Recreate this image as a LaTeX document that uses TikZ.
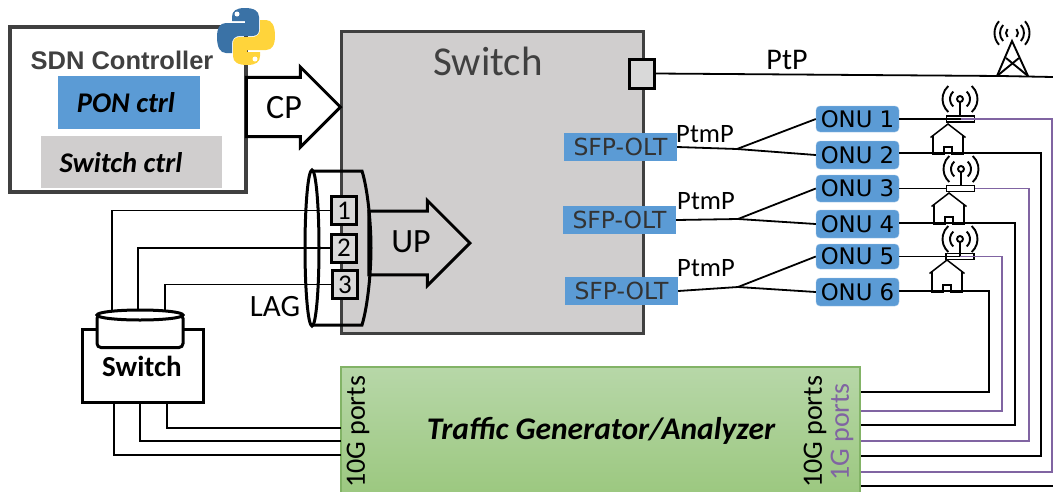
\documentclass[tikz,border=0pt]{standalone}
\usepackage{fontspec}
\usepackage{tikz}
\usetikzlibrary{positioning,calc,shapes.arrows,shapes.geometric}
\setmainfont{Carlito}
\newfontfamily\dejafont{DejaVu Sans}
\newfontfamily\arialfont{Liberation Sans}
\definecolor{ponblue}{HTML}{5B9BD5}
\definecolor{swgray}{HTML}{D0CECE}
\definecolor{portgray}{HTML}{D9D9D9}
\definecolor{edgegray}{HTML}{404040}
\definecolor{genpurple}{HTML}{8064A2}
\definecolor{gentop}{HTML}{B7D7A8}
\definecolor{genbot}{HTML}{9CC880}
\definecolor{genedge}{HTML}{82B366}
\definecolor{pyblue}{HTML}{3A72A6}
\definecolor{pyyellow}{HTML}{FFD43B}
\newcommand{\pyhalf}{(232,17) .. controls (232,11) and (236,8) .. (245,8)
  .. controls (254,8) and (259,11) .. (259,17) -- (259,30)
  .. controls (259,34) and (256,36) .. (252,36) -- (240,36)
  .. controls (235,36) and (232,39) .. (232,44) -- (232,53) -- (226,53)
  .. controls (220,53) and (217,47) .. (217,37)
  .. controls (217,28) and (220,23) .. (226,23) -- (245,23) -- (245,21) -- (232,21) -- cycle}
\tikzset{
  pics/antenna/.style={code={
    \draw[line width=1.9pt] (0,0) circle (3);
    \draw[line width=1.9pt] (0,3) -- (0,17);
    \foreach \r in {10,17.5}{
      \draw[line width=1.9pt] (48:\r) arc[start angle=48,end angle=-48,radius=\r];
      \draw[line width=1.9pt] (132:\r) arc[start angle=132,end angle=228,radius=\r];
    }
  }},
  pics/house/.style={code={
    \draw[line width=1.5pt] (-17.5,13.5) -- (0,0) -- (17.5,13.5);
    \draw[line width=1.5pt] (-15,12) -- (-15,#1) -- (-4,#1) -- (-4,{#1-7}) -- (4,{#1-7}) -- (4,#1) -- (15,#1) -- (15,12);
  }},
  pics/house/.default=30
}
\begin{document}
\begin{tikzpicture}[x=1pt,y=-1pt,
  wire/.style={line width=1.8pt,black},
  purplewire/.style={line width=1.9pt,genpurple},
  ctrlbox/.style={draw=edgegray,line width=3.2pt,fill=white,minimum width=236pt,minimum height=165pt,inner sep=0},
  mainswitch/.style={draw=edgegray,line width=3pt,fill=swgray,minimum width=302pt,minimum height=302pt,inner sep=0},
  ctrlblock/.style={inner sep=0,font=\fontsize{28.5}{28.5}\selectfont\bfseries\itshape},
  portbox/.style={draw=black,line width=3pt,fill=portgray,minimum width=25pt,minimum height=28pt,inner sep=0,font=\fontsize{27}{27}\selectfont},
  olt/.style={fill=ponblue,minimum width=113pt,minimum height=28pt,inner sep=0,text=black!80,font=\dejafont\fontsize{23.5}{24}\selectfont},
  onu/.style={fill=ponblue,draw=ponblue!60,rounded corners=4pt,minimum width=83pt,inner sep=0,font=\dejafont\fontsize{22.8}{23}\selectfont},
  router/.style={draw=black,line width=1.9pt,minimum width=28pt,minimum height=6pt,inner sep=0},
  txt/.style={inner sep=0,font=\fontsize{#1}{#1}\selectfont},
  txt/.default=26,
  bigarrow/.style={single arrow,draw=black,line width=3pt,inner sep=0,single arrow head indent=0pt}]
  \useasboundingbox (0,0) rectangle (1053,491);
  % switch under test
  \node[mainswitch] (sw) at (492,182) {};
  \node[txt=41,text=edgegray] (swname) at (488,61) {Switch};
  % controller
  \node[ctrlbox] (ctrl) at (128,109.5) {};
  \node[inner sep=0,text=edgegray,font=\arialfont\bfseries\fontsize{25.5}{25.5}\selectfont] (ctrlname) at (122,60) {SDN Controller};
  \node[ctrlblock,fill=ponblue,minimum width=142pt,minimum height=53pt] (ponctrl) at (129,102.5) {};
  \node[ctrlblock] (ponctrltxt) at (126,103) {PON ctrl};
  \node[ctrlblock,fill=swgray,minimum width=181pt,minimum height=52pt] (swctrl) at (131.5,162) {};
  \node[ctrlblock] (swctrltxt) at (121,163) {Switch ctrl};
  % python logo
  \fill[pyblue] \pyhalf;
  \fill[white] (237,14) circle (2.5);
  \begin{scope}[rotate around={180:(246,36.5)}]
    \fill[pyyellow] \pyhalf;
    \fill[white] (237,14) circle (2.5);
  \end{scope}
  % arrows
  \node[bigarrow,fill=white,minimum width=80pt,minimum height=94pt,anchor=tip] (cp) at (342.5,107) {\rule{0pt}{38pt}};
  \node[txt=34] (cplabel) at (284,108) {CP};
  \node[bigarrow,fill=swgray,minimum width=85pt,minimum height=101pt,anchor=tip] (up) at (472,243) {\rule{0pt}{40pt}};
  % LAG
  \draw[line width=3pt] (312,171) -- (362,171) .. controls (368,190) and (371,225) .. (371,248)
    .. controls (371,271) and (368,305) .. (362,325) -- (312,325);
  \node[draw,line width=3pt,ellipse,inner sep=0,minimum width=14pt,minimum height=156pt] (lag) at (312,248) {};
  \node[txt=34] (uplabel) at (411,242) {UP};
  \node[txt=31] (laglabel) at (275,307) {LAG};
  % small switch
  \node[draw,line width=3pt,fill=white,minimum width=121pt,minimum height=73pt,inner sep=0] (swbox) at (142.5,365.5) {};
  \node[inner sep=0,font=\fontsize{29}{29}\selectfont\bfseries] (swboxname) at (142,366) {Switch};
  \node[portbox] (pa) at (344,210.5) {1};
  \node[portbox] (pb) at (344,248) {2};
  \node[portbox] (pc) at (345,284.5) {3};
  \draw[wire] (pa.west) -| (112,311);
  \draw[wire] (pb.west) -| (138,311);
  \draw[wire] (pc.west) -| (165,311);
  \node[draw,line width=3pt,fill=white,rounded corners=4pt,minimum width=86pt,minimum height=33pt,inner sep=0] (swdrum) at (140,331) {};
  \node[draw,line width=3pt,fill=white,ellipse,minimum width=86pt,minimum height=10pt,inner sep=0] (swlid) at (140,315) {};
  % traffic generator
  \node[draw=genedge,line width=1.5pt,top color=gentop,bottom color=genbot,minimum width=519pt,minimum height=126pt,inner sep=0] (tg) at (600.5,430) {};
  \node[inner sep=0,font=\fontsize{31.5}{31.5}\selectfont\bfseries\itshape] (tgname) at (601,431) {Traffic Generator/Analyzer};
  \node[txt=28,rotate=90] (tgleft) at (358,432) {10G ports};
  \node[txt=28,rotate=90] (tgten) at (815,432) {10G ports};
  \node[txt=28,rotate=90,text=genpurple] (tgone) at (842,432) {1G ports};
  \draw[wire] ([xshift=-28.5pt]swbox.south) |- (341,455);
  \draw[wire] ([xshift=-2.5pt]swbox.south) |- (341,441);
  \draw[wire] ([xshift=24.5pt]swbox.south) |- (341,428);
  % PtP
  \node[portbox,minimum height=29pt] (ptpport) at (641.5,73.5) {};
  \coordinate (towerbase) at (1001,76);
  \coordinate (ptpend) at (1053,77);
  \draw[wire] (ptpport.east) -- (towerbase) -- (ptpend);
  \node[txt=30] (ptplabel) at (787,60) {PtP};
  \coordinate (towertop) at (1012,33);
  \draw[line width=1.9pt] (997,76) -- (1012,41) -- (1028,76);
  \draw[line width=1.9pt] (1006,58) -- (1028,76);
  \draw[line width=1.9pt] (1019,58) -- (997,76);
  \foreach \r in {6,12,17.5}{
    \draw[line width=1.9pt] ($(towertop)+(42:\r)$) arc[start angle=42,end angle=-42,radius=\r];
    \draw[line width=1.9pt] ($(towertop)+(138:\r)$) arc[start angle=138,end angle=222,radius=\r];
  }
  % OLT
  \node[olt] (olta) at (620.5,147) {SFP-OLT};
  \node[olt] (oltb) at (619.5,220) {SFP-OLT};
  \node[olt] (oltc) at (621.5,291) {SFP-OLT};
  \node[txt=26.5] (ptma) at (705,134) {PtmP};
  \node[txt=26.5] (ptmb) at (706,201) {PtmP};
  \node[txt=26.5] (ptmc) at (706,268) {PtmP};
  % ONU
  \node[onu,minimum height=26pt] (onua) at (857.5,119) {ONU 1};
  \node[onu,minimum height=28pt] (onub) at (857.5,155) {ONU 2};
  \node[onu,minimum height=27pt] (onuc) at (857.5,188.5) {ONU 3};
  \node[onu,minimum height=28pt] (onud) at (857.5,224) {ONU 4};
  \node[onu,minimum height=25pt] (onue) at (857.5,256.5) {ONU 5};
  \node[onu,minimum height=28pt] (onuf) at (857.5,292) {ONU 6};
  \coordinate (splita) at (737,149);
  \coordinate (splitb) at (738,219);
  \coordinate (splitc) at (738,287);
  \draw[wire] (olta.east) -- (splita) -- (onua.west);
  \draw[wire] (splita) -- (onub.west);
  \draw[wire] (oltb.east) -- (splitb) -- (onuc.west);
  \draw[wire] (splitb) -- (onud.west);
  \draw[wire] (oltc.east) -- (splitc) -- (onue.west);
  \draw[wire] (splitc) -- (onuf.west);
  % routers and houses
  \node[router] (routera) at (960.5,119) {};
  \node[router] (routerc) at (960.5,188.5) {};
  \node[router] (routere) at (960,256.5) {};
  \pic at (960,99) {antenna};
  \pic at (961,169) {antenna};
  \pic at (960,239) {antenna};
  \pic at (948,124) {house};
  \pic at (949,193) {house=31};
  \pic at (947,260) {house=32};
  % links to the generator
  \coordinate (ca) at (1052,472);
  \coordinate (cb) at (1041,456);
  \coordinate (cc) at (1029,441);
  \coordinate (cd) at (1015,425);
  \coordinate (ce) at (1002,411);
  \coordinate (cf) at (989,392);
  \coordinate (cg) at (1053,486);
  \draw[wire] (onua.east) -- (routera.center);
  \draw[purplewire] (routera.center) -| (ca) -- (ca -| tg.east);
  \draw[wire] ([yshift=2pt]onub.east) -| (cb) -- (cb -| tg.east);
  \draw[wire] (onuc.east) -- (routerc.west);
  \draw[purplewire] (routerc.east) -| (cc) -- (cc -| tg.east);
  \draw[wire] ([yshift=1pt]onud.east) -| (cd) -- (cd -| tg.east);
  \draw[wire] (onue.east) -- (routere.center);
  \draw[purplewire] (routere.center) -| (ce) -- (ce -| tg.east);
  \draw[wire] ([yshift=1pt]onuf.east) -| (cf) -- (cf -| tg.east);
  \draw[wire] (cg -| tg.east) -- (cg);
\end{tikzpicture}
\end{document}
